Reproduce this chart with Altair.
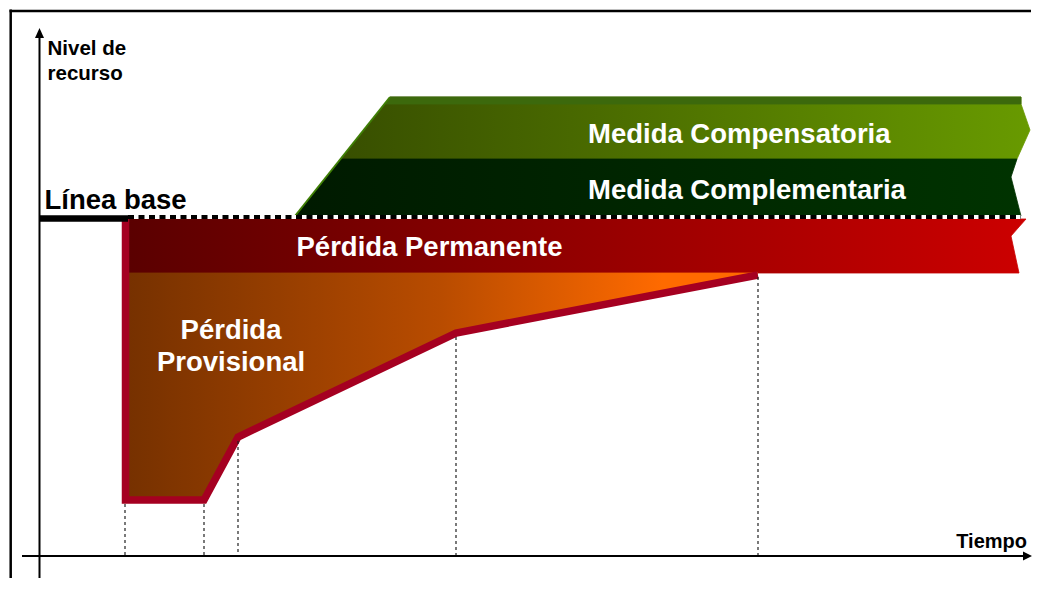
import altair as alt
import pandas as pd

# ---- Diagram coordinate space: x = time, y = resource level (drawn downward, as in the source) ----
X_DOMAIN = [8, 1032]
Y_DOMAIN = [8, 578]

# Bands / polygons (vertex lists)
comp_x = [390, 1021, 1021, 1030, 1017, 340.5]
comp_y = [97, 97, 104, 130, 159, 159]
strip_x = [390, 1021, 1021, 384.4]
strip_y = [97, 97, 104, 104]
compl_x = [340.5, 1017, 1011, 1021, 295]
compl_y = [159, 159, 177, 216, 216]
perm_x = [126, 1026, 1011, 1019, 126]
perm_y = [219, 219, 236, 273, 273]
prov_x = [126, 758, 456, 238, 204, 126]
prov_y = [273, 273, 333, 437, 500, 500]
loss_x = [125.5, 125.5, 204, 238, 456, 758]
loss_y = [219, 500, 500, 437, 333, 275]
slant_x = [295, 390]
slant_y = [216, 97]

# Dotted time markers
mark_t = [125, 204, 238, 456, 758]
mark_top = [504, 504, 441, 337, 277]
mark_bottom = [556, 556, 556, 556, 556]

# Text labels
lab_left = ["Nivel de", "recurso", "Línea base", "Medida Compensatoria",
            "Medida Complementaria", "Pérdida Permanente"]
lab_left_x = [47.5, 47.5, 44.5, 588, 588, 296.5]
lab_left_y = [55, 80, 209, 143, 199, 256]
lab_left_size = [20.5, 20.5, 27.5, 27.5, 27.5, 27.5]
lab_left_color = ["black", "black", "black", "white", "white", "white"]
lab_center = ["Pérdida", "Provisional"]
lab_center_x = [231, 231]
lab_center_y = [339, 371]
lab_right = ["Tiempo"]
lab_right_x = [1027]
lab_right_y = [548]

FONT = "Liberation Sans, Arial, sans-serif"

xs = alt.Scale(domain=X_DOMAIN, nice=False, zero=False)
ys = alt.Scale(domain=Y_DOMAIN, nice=False, zero=False, reverse=True)


def grad(stops):
    return alt.LinearGradient(
        gradient="linear",
        stops=[alt.GradientStop(offset=o, color=c) for o, c in stops],
        x1=0, x2=1, y1=0, y2=0,
    )


def poly(px, py, fill):
    df = pd.DataFrame({"x": px, "y": py, "o": list(range(len(px)))})
    return alt.Chart(df).mark_line(fill=fill, stroke=fill, strokeWidth=0.8).encode(
        x=alt.X("x:Q", scale=xs, axis=None),
        y=alt.Y("y:Q", scale=ys, axis=None),
        order=alt.Order("o:Q"),
    )


def polyline(px, py, color, width, dash=None):
    df = pd.DataFrame({"x": px, "y": py, "o": list(range(len(px)))})
    kw = dict(color=color, strokeWidth=width, strokeJoin="miter", strokeCap="butt")
    if dash:
        kw["strokeDash"] = dash
    return alt.Chart(df).mark_line(**kw).encode(
        x=alt.X("x:Q", scale=xs, axis=None),
        y=alt.Y("y:Q", scale=ys, axis=None),
        order=alt.Order("o:Q"),
    )


def rule(x1, y1, x2, y2, color, width, dash=None):
    df = pd.DataFrame({"x": [x1], "y": [y1], "x2": [x2], "y2": [y2]})
    kw = dict(color=color, strokeWidth=width, strokeCap="butt")
    if dash:
        kw["strokeDash"] = dash
    return alt.Chart(df).mark_rule(**kw).encode(
        x=alt.X("x:Q", scale=xs, axis=None),
        y=alt.Y("y:Q", scale=ys, axis=None),
        x2="x2:Q",
        y2="y2:Q",
    )


layers = []

# frame
layers.append(rule(9.5, 11, 1031, 11, "black", 2.5))
layers.append(rule(10.7, 9.5, 10.7, 600, "black", 2.5))

# bands
layers.append(poly(perm_x, perm_y, grad([(0, "#5a0000"), (1, "#cc0000")])))
layers.append(poly(prov_x, prov_y, grad([(0, "#763100"), (0.5, "#b94c00"), (0.85, "#ff6a00"), (1, "#ff6a00")])))
layers.append(poly(comp_x, comp_y, grad([(0, "#384f00"), (1, "#689a00")])))
layers.append(poly(compl_x, compl_y, grad([(0, "#001a00"), (1, "#003300")])))
layers.append(poly(strip_x, strip_y, "#3c690c"))
layers.append(polyline(slant_x, slant_y, "#3f7f05", 2))

# loss outline
layers.append(polyline(loss_x, loss_y, "#a50021", 7.5))

# dotted markers
marks_df = pd.DataFrame({"x": mark_t, "y": mark_top, "y2": mark_bottom})
layers.append(
    alt.Chart(marks_df).mark_rule(color="#222222", strokeWidth=1.2, strokeDash=[3, 3]).encode(
        x=alt.X("x:Q", scale=xs, axis=None),
        y=alt.Y("y:Q", scale=ys, axis=None),
        y2="y2:Q",
    )
)

# baseline
layers.append(rule(39, 218.5, 128, 218.5, "black", 6.5))
layers.append(rule(128, 217, 1021, 217, "white", 4))
layers.append(rule(128, 217, 1021, 217, "black", 4, dash=[6, 4.5]))

# axes
layers.append(rule(39.5, 36, 39.5, 590, "black", 2))
layers.append(rule(22, 556, 1026, 556, "black", 2))
arrow_up = pd.DataFrame({"x": [39.5], "y": [33]})
arrow_right = pd.DataFrame({"x": [1027.5], "y": [556]})
layers.append(
    alt.Chart(arrow_up).mark_point(shape="M0,-1L0.9,1L-0.9,1Z", filled=True, color="black",
                                   size=100, opacity=1, strokeWidth=0).encode(
        x=alt.X("x:Q", scale=xs, axis=None), y=alt.Y("y:Q", scale=ys, axis=None))
)
layers.append(
    alt.Chart(arrow_right).mark_point(shape="M1,0L-1,-1L-1,1Z", filled=True, color="black",
                                      size=81, opacity=1, strokeWidth=0).encode(
        x=alt.X("x:Q", scale=xs, axis=None), y=alt.Y("y:Q", scale=ys, axis=None))
)

# texts
left_df = pd.DataFrame({"t": lab_left, "x": lab_left_x, "y": lab_left_y,
                        "s": lab_left_size, "c": lab_left_color})
layers.append(
    alt.Chart(left_df).mark_text(align="left", baseline="alphabetic", font=FONT, fontWeight="bold").encode(
        x=alt.X("x:Q", scale=xs, axis=None), y=alt.Y("y:Q", scale=ys, axis=None),
        text="t:N", size=alt.Size("s:Q", scale=None, legend=None),
        color=alt.Color("c:N", scale=None, legend=None))
)
center_df = pd.DataFrame({"t": lab_center, "x": lab_center_x, "y": lab_center_y})
layers.append(
    alt.Chart(center_df).mark_text(align="center", baseline="alphabetic", font=FONT, fontWeight="bold",
                                   fontSize=27.5, color="white").encode(
        x=alt.X("x:Q", scale=xs, axis=None), y=alt.Y("y:Q", scale=ys, axis=None), text="t:N")
)
right_df = pd.DataFrame({"t": lab_right, "x": lab_right_x, "y": lab_right_y})
layers.append(
    alt.Chart(right_df).mark_text(align="right", baseline="alphabetic", font=FONT, fontWeight="bold",
                                  fontSize=20, color="black").encode(
        x=alt.X("x:Q", scale=xs, axis=None), y=alt.Y("y:Q", scale=ys, axis=None), text="t:N")
)

chart = alt.layer(*layers).properties(
    width=1024, height=570, padding=0,
    autosize=alt.AutoSizeParams(type="none"),
    background="white",
).configure_view(stroke="transparent")

chart.save("out.html", embed_options={"renderer": "svg", "actions": False})
